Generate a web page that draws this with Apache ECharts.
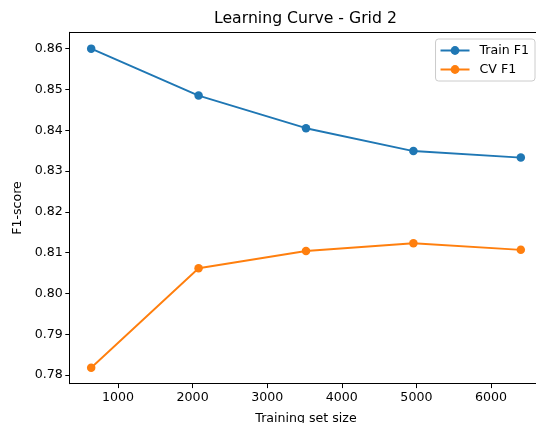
<!DOCTYPE html>
<html>
<head>
<meta charset="utf-8">
<script src="https://cdn.jsdelivr.net/npm/echarts@6/dist/echarts.min.js"></script>
<style>
html,body{margin:0;padding:0;background:#fff;}
#c{width:536px;height:423px;}
</style>
</head>
<body>
<div id="c"></div>
<script>
const trainSizes = [640, 2080, 3520, 4960, 6400];
const trainF1 = [0.8600, 0.8485, 0.8405, 0.8349, 0.8333];
const cvF1 = [0.7818, 0.8062, 0.8104, 0.8123, 0.8107];
const xTicks = [1000, 2000, 3000, 4000, 5000, 6000];
const yTicks = [0.78, 0.79, 0.80, 0.81, 0.82, 0.83, 0.84, 0.85, 0.86];

const FONT = 'DejaVu Sans';
const chart = echarts.init(document.getElementById('c'), null, {renderer: 'canvas'});
const pts = arr => trainSizes.map((x, i) => [x, arr[i]]);

chart.setOption({
  animation: false,
  backgroundColor: '#fff',
  title: {
    text: 'Learning Curve - Grid 2',
    left: 214, top: 11,
    padding: 0,
    textStyle: {fontFamily: FONT, fontSize: 15.7, fontWeight: 'normal', color: '#000'}
  },
  legend: {
    orient: 'vertical',
    right: 1, top: 39,
    padding: [5, 6, 5, 4],
    itemWidth: 29, itemHeight: 11, itemGap: 6,
    backgroundColor: 'rgba(255,255,255,0.8)',
    borderColor: '#cccccc', borderWidth: 1, borderRadius: 3,
    textStyle: {fontFamily: FONT, fontSize: 12.6, color: '#000', padding: [0, 0, 0, 5]},
    data: ['Train F1', 'CV F1']
  },
  grid: {
    left: 69.7, top: 32.3, width: 472.6, height: 351.4,
    outerBoundsMode: 'none', containLabel: false,
    show: false
  },
  xAxis: [{
    type: 'value', min: 352, max: 6688,
    name: 'Training set size', nameLocation: 'middle', nameGap: 29,
    nameTextStyle: {fontFamily: FONT, fontSize: 12.6, color: '#000'},
    axisLine: {show: true, lineStyle: {color: '#000', width: 1}},
    axisTick: {show: true, length: 4.4, lineStyle: {color: '#000', width: 1}, customValues: xTicks},
    axisLabel: {fontFamily: FONT, fontSize: 12.6, color: '#000', margin: 8, customValues: xTicks,
      formatter: v => String(v)},
    splitLine: {show: false}
  }, {
    type: 'value', position: 'top', min: 352, max: 6688,
    axisLine: {show: true, lineStyle: {color: '#000', width: 1}},
    axisTick: {show: false}, axisLabel: {show: false}, splitLine: {show: false}
  }],
  yAxis: {
    type: 'value', min: 0.7779, max: 0.8640,
    name: 'F1-score', nameLocation: 'middle', nameGap: 44,
    nameTextStyle: {fontFamily: FONT, fontSize: 12.6, color: '#000'},
    axisLine: {show: true, lineStyle: {color: '#000', width: 1}},
    axisTick: {show: true, length: 4.4, lineStyle: {color: '#000', width: 1}, customValues: yTicks},
    axisLabel: {fontFamily: FONT, fontSize: 12.6, color: '#000', margin: 7, customValues: yTicks,
      formatter: v => v.toFixed(2)},
    splitLine: {show: false}
  },
  series: [
    {name: 'Train F1', type: 'line', data: pts(trainF1), color: '#1f77b4',
     symbol: 'circle', symbolSize: 8.5, showAllSymbol: true,
     lineStyle: {width: 1.9}, itemStyle: {color: '#1f77b4'}},
    {name: 'CV F1', type: 'line', data: pts(cvF1), color: '#ff7f0e',
     symbol: 'circle', symbolSize: 8.5, showAllSymbol: true,
     lineStyle: {width: 1.9}, itemStyle: {color: '#ff7f0e'}}
  ]
});
</script>
</body>
</html>
